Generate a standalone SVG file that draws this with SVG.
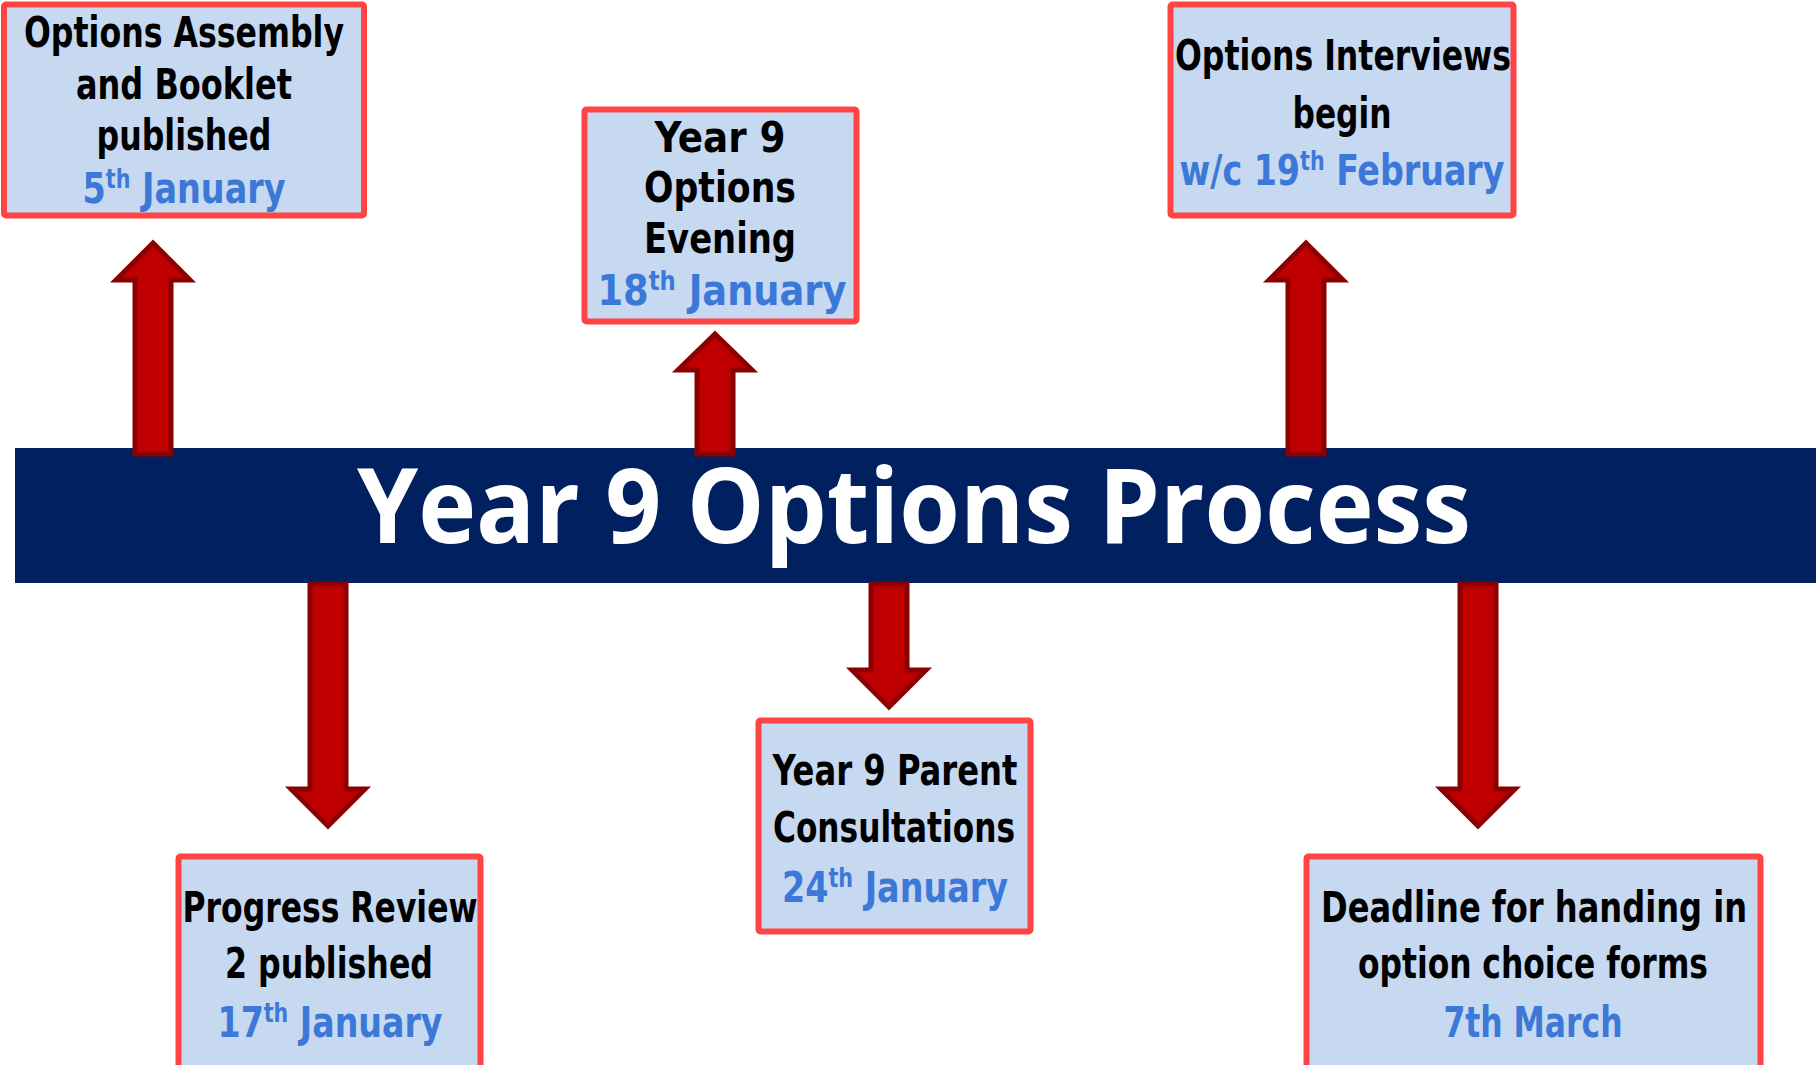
<svg xmlns="http://www.w3.org/2000/svg" width="1816" height="1065" viewBox="0 0 1816 1065">
<style>
.box{fill:#C6D9F0;stroke:#FF4444;stroke-width:6;}
.t{font-family:"DejaVu Sans Condensed","DejaVu Sans",sans-serif;font-stretch:condensed;font-weight:bold;font-size:42px;fill:#000;text-anchor:middle;}
.d{fill:#3C78D8;}
.sup{font-size:26px;}
.arrow{fill:#C00000;stroke:#8B0000;stroke-width:5;stroke-linejoin:miter;}
.title{font-family:"Open Sans","DejaVu Sans",sans-serif;font-weight:bold;font-size:104px;fill:#fff;text-anchor:middle;}
</style>
<rect width="1816" height="1065" fill="#fff"/>
<g id="banner">
<rect x="15" y="448" width="1801" height="135" fill="#002060"/>
<text class="title" x="914" y="543" textLength="1114" lengthAdjust="spacingAndGlyphs">Year 9 Options Process</text>
</g>
<g id="connectors">
<polygon class="arrow" points="153,243 190,280 171,280 171,454 135,454 135,280 116,280"/>
<polygon class="arrow" points="715,334 752,370 733,370 733,454 697,454 697,370 678,370"/>
<polygon class="arrow" points="1306,243 1343,280 1324,280 1324,454 1288,454 1288,280 1269,280"/>
<polygon class="arrow" points="310,584 346,584 346,789 365,789 328,826 291,789 310,789"/>
<polygon class="arrow" points="871,584 907,584 907,670 926,670 889,707 852,670 871,670"/>
<polygon class="arrow" points="1460,584 1496,584 1496,789 1515,789 1478,826 1441,789 1460,789"/>
</g>
<g id="node-assembly">
<rect class="box" x="4" y="4.5" width="360" height="211" rx="2"/>
<text class="t" x="184" y="47" textLength="320" lengthAdjust="spacingAndGlyphs">Options Assembly</text>
<text class="t" x="184" y="99" textLength="216" lengthAdjust="spacingAndGlyphs">and Booklet</text>
<text class="t" x="184" y="150" textLength="175" lengthAdjust="spacingAndGlyphs">published</text>
<text class="t d" x="184" y="203" textLength="203" lengthAdjust="spacingAndGlyphs">5<tspan class="sup" dy="-15">th</tspan><tspan dy="15"> January</tspan></text>
</g>
<g id="node-evening">
<rect class="box" x="584.5" y="109.5" width="272" height="212" rx="2"/>
<text class="t" x="720" y="152" textLength="131" lengthAdjust="spacingAndGlyphs">Year 9</text>
<text class="t" x="720" y="202" textLength="152" lengthAdjust="spacingAndGlyphs">Options</text>
<text class="t" x="720" y="253" textLength="152" lengthAdjust="spacingAndGlyphs">Evening</text>
<text class="t d" x="722" y="305" textLength="249" lengthAdjust="spacingAndGlyphs">18<tspan class="sup" dy="-15">th</tspan><tspan dy="15"> January</tspan></text>
</g>
<g id="node-interviews">
<rect class="box" x="1170.5" y="4.5" width="343" height="211" rx="2"/>
<text class="t" x="1343" y="70" textLength="336" lengthAdjust="spacingAndGlyphs">Options Interviews</text>
<text class="t" x="1342" y="128" textLength="99" lengthAdjust="spacingAndGlyphs">begin</text>
<text class="t d" x="1342" y="185" textLength="325" lengthAdjust="spacingAndGlyphs">w/c 19<tspan class="sup" dy="-15">th</tspan><tspan dy="15"> February</tspan></text>
</g>
<g id="node-progress">
<rect class="box" x="178.5" y="856.5" width="302" height="230" rx="2"/>
<text class="t" x="330" y="922" textLength="295" lengthAdjust="spacingAndGlyphs">Progress Review</text>
<text class="t" x="329" y="978" textLength="208" lengthAdjust="spacingAndGlyphs">2 published</text>
<text class="t d" x="330" y="1037" textLength="225" lengthAdjust="spacingAndGlyphs">17<tspan class="sup" dy="-15">th</tspan><tspan dy="15"> January</tspan></text>
</g>
<g id="node-consultations">
<rect class="box" x="758.5" y="720.5" width="272" height="211" rx="2"/>
<text class="t" x="895" y="785" textLength="245" lengthAdjust="spacingAndGlyphs">Year 9 Parent</text>
<text class="t" x="894" y="842" textLength="242" lengthAdjust="spacingAndGlyphs">Consultations</text>
<text class="t d" x="895" y="902" textLength="226" lengthAdjust="spacingAndGlyphs">24<tspan class="sup" dy="-15">th</tspan><tspan dy="15"> January</tspan></text>
</g>
<g id="node-deadline">
<rect class="box" x="1306.5" y="856.5" width="454" height="230" rx="2"/>
<text class="t" x="1534" y="922" textLength="426" lengthAdjust="spacingAndGlyphs">Deadline for handing in</text>
<text class="t" x="1533" y="978" textLength="350" lengthAdjust="spacingAndGlyphs">option choice forms</text>
<text class="t d" x="1533" y="1037" textLength="179" lengthAdjust="spacingAndGlyphs">7th March</text>
</g>
</svg>
